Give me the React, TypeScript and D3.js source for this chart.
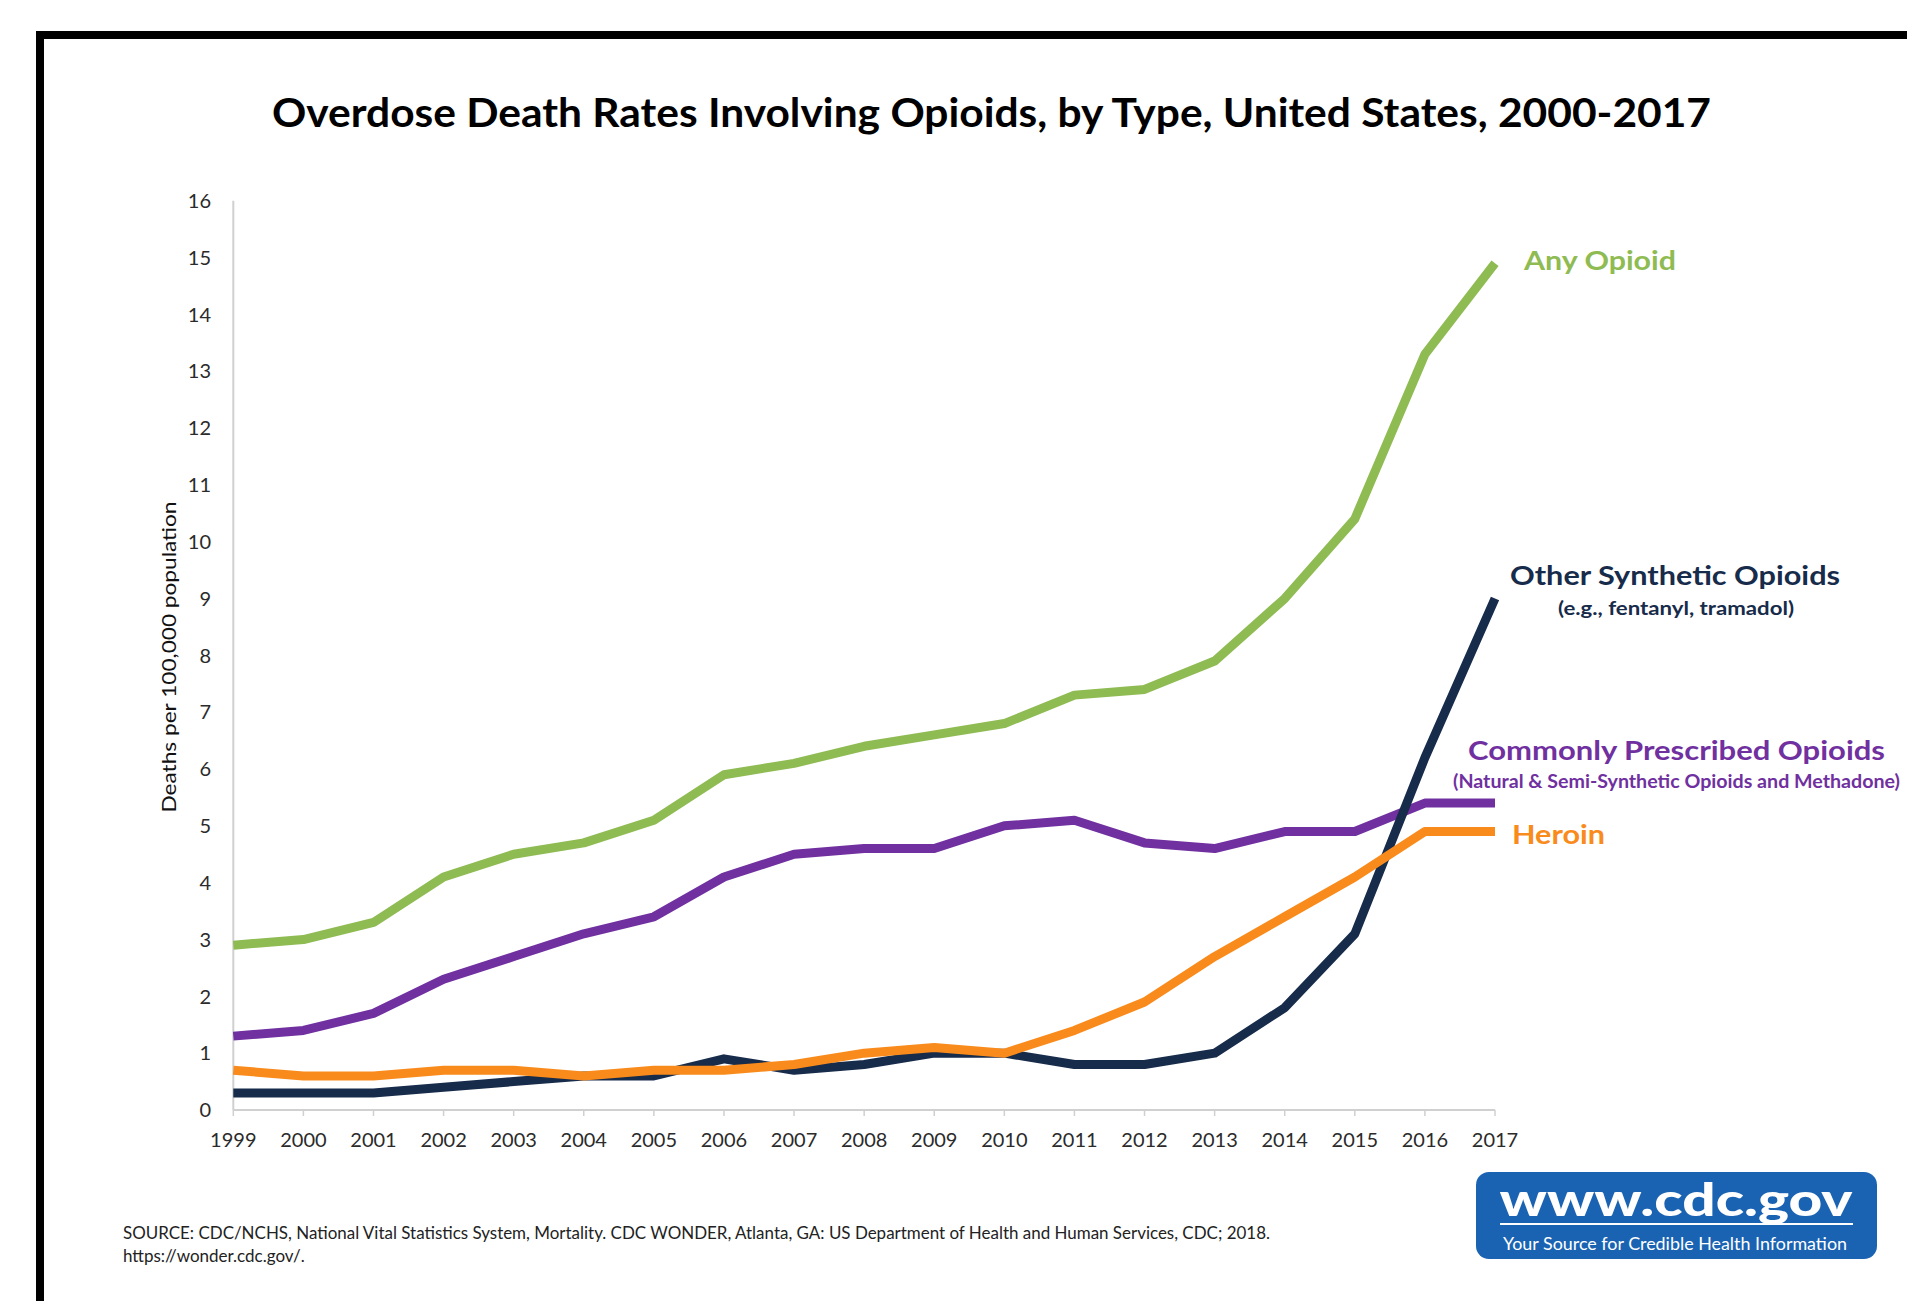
import React from "react";
import * as d3 from "d3";

const years = [1999, 2000, 2001, 2002, 2003, 2004, 2005, 2006, 2007, 2008, 2009, 2010, 2011, 2012, 2013, 2014, 2015, 2016, 2017];
const yTicks = [0, 1, 2, 3, 4, 5, 6, 7, 8, 9, 10, 11, 12, 13, 14, 15, 16];

const anyOpioid = [2.9, 3.0, 3.3, 4.1, 4.5, 4.7, 5.1, 5.9, 6.1, 6.4, 6.6, 6.8, 7.3, 7.4, 7.9, 9.0, 10.4, 13.3, 14.9];
const commonlyPrescribed = [1.3, 1.4, 1.7, 2.3, 2.7, 3.1, 3.4, 4.1, 4.5, 4.6, 4.6, 5.0, 5.1, 4.7, 4.6, 4.9, 4.9, 5.4, 5.4];
const otherSynthetic = [0.3, 0.3, 0.3, 0.4, 0.5, 0.6, 0.6, 0.9, 0.7, 0.8, 1.0, 1.0, 0.8, 0.8, 1.0, 1.8, 3.1, 6.2, 9.0];
const heroin = [0.7, 0.6, 0.6, 0.7, 0.7, 0.6, 0.7, 0.7, 0.8, 1.0, 1.1, 1.0, 1.4, 1.9, 2.7, 3.4, 4.1, 4.9, 4.9];

const title = "Overdose Death Rates Involving Opioids, by Type, United States, 2000-2017";
const yAxisTitle = "Deaths per 100,000 population";
const sourceLines = [
  "SOURCE: CDC/NCHS, National Vital Statistics System, Mortality. CDC WONDER, Atlanta, GA: US Department of Health and Human Services, CDC; 2018.",
  "https://wonder.cdc.gov/.",
];

const GREEN = "#8FBB53";
const NAVY = "#172B4A";
const PURPLE = "#7030A0";
const ORANGE = "#F98B1C";

const series = [
  { name: "Any Opioid", values: anyOpioid, color: GREEN },
  { name: "Commonly Prescribed Opioids", values: commonlyPrescribed, color: PURPLE },
  { name: "Other Synthetic Opioids", values: otherSynthetic, color: NAVY },
  { name: "Heroin", values: heroin, color: ORANGE },
];

const FONT = "Lato, 'Open Sans', sans-serif";

export default function App() {
  const W = 1907;
  const H = 1301;
  const x = d3.scaleLinear().domain([1999, 2017]).range([233.3, 1495]);
  const y = d3.scaleLinear().domain([0, 16]).range([1110, 200.7]);
  const line = d3
    .line<number>()
    .x((_, i) => x(years[i]))
    .y((d) => y(d));

  return (
    <svg
      width={W}
      height={H}
      viewBox={`0 0 ${W} ${H}`}
      style={{ position: "absolute", left: 0, top: 0, background: "#fff" }}
      fontFamily={FONT}
    >
      <rect x={0} y={0} width={W} height={H} fill="#fff" />
      {/* frame */}
      <rect x={40} y={35} width={W + 50} height={H + 50} fill="none" stroke="#000" strokeWidth={8} />

      {/* title */}
      <text x={991.5} y={127} textAnchor="middle" fontSize={40} fontWeight={700} fill="#000" textLength={1439} lengthAdjust="spacingAndGlyphs">
        {title}
      </text>

      {/* y axis */}
      <line x1={x(1999)} x2={x(1999)} y1={y(16)} y2={y(0)} stroke="#D0D0D0" strokeWidth={2} />
      {yTicks.map((t) => (
        <text key={t} x={211} y={y(t)} dy="0.36em" textAnchor="end" fontSize={20} fill="#2b2b2b">
          {t}
        </text>
      ))}
      <text
        transform={`translate(169,657) rotate(-90)`}
        textAnchor="middle"
        dy="0.36em"
        fontSize={20}
        fill="#111"
        textLength={311}
        lengthAdjust="spacingAndGlyphs"
      >
        {yAxisTitle}
      </text>

      {/* x axis */}
      <line x1={x(1999)} x2={x(2017)} y1={y(0)} y2={y(0)} stroke="#D0D0D0" strokeWidth={2} />
      {years.map((yr) => (
        <g key={yr}>
          <line x1={x(yr)} x2={x(yr)} y1={y(0)} y2={y(0) + 6} stroke="#D0D0D0" strokeWidth={1.5} />
          <text x={x(yr)} y={1140} dy="0.36em" textAnchor="middle" fontSize={20} fill="#2b2b2b">
            {yr}
          </text>
        </g>
      ))}

      {/* lines */}
      {series.map((s) => (
        <path
          key={s.name}
          d={line(s.values) || ""}
          fill="none"
          stroke={s.color}
          strokeWidth={9}
          strokeLinejoin="round"
          strokeLinecap="butt"
        />
      ))}

      {/* series labels */}
      <text x={1524} y={270} fontSize={26} fontWeight={700} fill={GREEN} textLength={152} lengthAdjust="spacingAndGlyphs">
        Any Opioid
      </text>
      <text x={1675} y={585} textAnchor="middle" fontSize={26} fontWeight={700} fill={NAVY} textLength={330} lengthAdjust="spacingAndGlyphs">
        Other Synthetic Opioids
      </text>
      <text x={1676} y={615} textAnchor="middle" fontSize={18} fontWeight={700} fill={NAVY} textLength={236} lengthAdjust="spacingAndGlyphs">
        (e.g., fentanyl, tramadol)
      </text>
      <text x={1676.5} y={760} textAnchor="middle" fontSize={26} fontWeight={700} fill={PURPLE} textLength={417} lengthAdjust="spacingAndGlyphs">
        Commonly Prescribed Opioids
      </text>
      <text x={1676.5} y={788} textAnchor="middle" fontSize={18} fontWeight={700} fill={PURPLE} textLength={447} lengthAdjust="spacingAndGlyphs">
        (Natural &amp; Semi-Synthetic Opioids and Methadone)
      </text>
      <text x={1512} y={844} fontSize={26} fontWeight={700} fill={ORANGE} textLength={93} lengthAdjust="spacingAndGlyphs">
        Heroin
      </text>

      {/* source */}
      <text x={123} y={1239} fontSize={17} fill="#222" textLength={1147} lengthAdjust="spacingAndGlyphs">
        {sourceLines[0]}
      </text>
      <text x={123} y={1262} fontSize={17} fill="#222">
        {sourceLines[1]}
      </text>

      {/* CDC logo */}
      <rect x={1476} y={1172} width={401} height={87} rx={13} ry={13} fill="#1A63B3" />
      <text x={1676} y={1216} textAnchor="middle" fontSize={46} fontWeight={900} fill="#fff" textLength={353} lengthAdjust="spacingAndGlyphs">
        www.cdc.gov
      </text>
      <line x1={1500} x2={1853} y1={1224} y2={1224} stroke="#fff" strokeWidth={2} />
      <text x={1675} y={1250} textAnchor="middle" fontSize={17} fill="#fff" textLength={344} lengthAdjust="spacingAndGlyphs">
        Your Source for Credible Health Information
      </text>
    </svg>
  );
}
